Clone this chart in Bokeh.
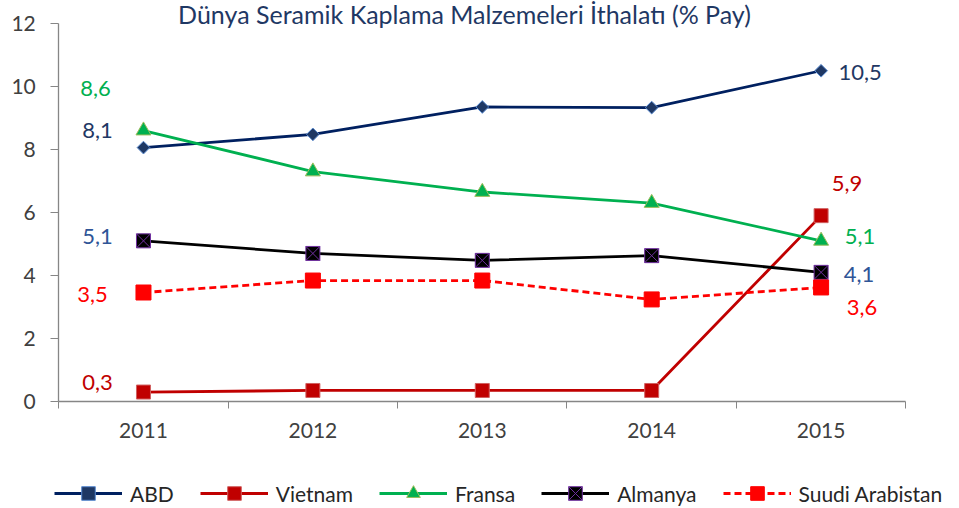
import math
from bokeh.plotting import figure
from bokeh.models import (FixedTicker, Legend, LegendItem, Label, ColumnDataSource,
                          Range1d)
from bokeh.core.properties import value
from bokeh.embed import file_html
from bokeh.resources import INLINE

years = [2011, 2012, 2013, 2014, 2015]
abd = [8.06, 8.48, 9.35, 9.33, 10.5]
vietnam = [0.3, 0.35, 0.35, 0.35, 5.9]
fransa = [8.6, 7.3, 6.65, 6.3, 5.1]
almanya = [5.1, 4.7, 4.48, 4.63, 4.1]
suudi = [3.46, 3.84, 3.84, 3.24, 3.62]
y_ticks = [0, 2, 4, 6, 8, 10, 12]
title_text = "Dünya Seramik Kaplama Malzemeleri İthalatı (% Pay)"

FONT = "Lato"
W, H = 959, 508

p = figure(width=W, height=H, output_backend="svg", toolbar_location=None,
           x_range=Range1d(2010.156, 2015.817), y_range=Range1d(-3.397, 12.730),
           min_border_left=0, min_border_right=0, min_border_top=0,
           min_border_bottom=0)
p.outline_line_color = None
p.xgrid.visible = False
p.ygrid.visible = False

# axes (drawn at fixed data locations inside the frame)
p.yaxis.fixed_location = 2010.5
p.yaxis.bounds = (0, 12)
p.yaxis.ticker = FixedTicker(ticks=y_ticks)
p.yaxis.major_label_text_font = FONT
p.yaxis.major_label_text_font_size = "21px"
p.yaxis.major_label_text_color = "#404040"
p.yaxis.axis_line_color = "#868686"
p.yaxis.axis_line_width = 1.3
p.yaxis.major_tick_line_color = "#868686"
p.yaxis.major_tick_out = 8
p.yaxis.major_tick_in = 0
p.yaxis.minor_tick_line_color = None
p.yaxis.major_label_standoff = 15

p.xaxis.fixed_location = 0
p.xaxis.bounds = (2010.5, 2015.5)
p.xaxis.ticker = FixedTicker(ticks=years,
                             minor_ticks=[y - 0.5 for y in years] + [years[-1] + 0.5])
p.xaxis.major_label_text_font = FONT
p.xaxis.major_label_text_font_size = "21px"
p.xaxis.major_label_text_color = "#404040"
p.xaxis.axis_line_color = "#868686"
p.xaxis.axis_line_width = 1.3
p.xaxis.major_tick_line_color = None
p.xaxis.major_tick_out = 0
p.xaxis.major_tick_in = 0
p.xaxis.minor_tick_line_color = "#868686"
p.xaxis.minor_tick_out = 7
p.xaxis.minor_tick_in = 0
p.xaxis.major_label_standoff = 15

series = [
    ("ABD", abd, "#002060", "square", "#1F3864", "#5B8BD0", None, 9, math.pi / 4),
    ("Vietnam", vietnam, "#C00000", "square", "#C00000", "#D06060", None, 14, 0),
    ("Fransa", fransa, "#00B050", "triangle", "#00B050", "#9BBB59", None, 15, 0),
    ("Almanya", almanya, "#000000", "square_x", "#000000", "#7030A0", None, 14, 0),
    ("Suudi Arabistan", suudi, "#FF0000", "square", "#FF0000", "#FF0000", "7 4", 15, 0),
]

items = []
for name, vals, lc, marker, fc, oc, dash, size, ang in series:
    src = ColumnDataSource(dict(x=years, y=vals))
    r1 = p.line("x", "y", source=src, line_color=lc, line_width=2.8,
                line_dash=dash if dash else "solid")
    r2 = p.scatter("x", "y", source=src, marker=marker, size=size, angle=ang,
                   fill_color=fc, line_color=oc, line_width=1)
    items.append(LegendItem(label=name, renderers=[r1, r2]))

# data labels (first and last values)
def fmt(v):
    return ("%.1f" % v).replace(".", ",")

lab_specs = [
    # values, index, color, dx, dy
    (fransa, 0, "#00B050", -48, -42),
    (abd, 0, "#1F3864", -46, -17),
    (almanya, 0, "#2F5597", -46, -4),
    (suudi, 0, "#FF0000", -51, 2),
    (vietnam, 0, "#C00000", -46, -10),
    (abd, 4, "#1F3864", 39, 2),
    (vietnam, 4, "#C00000", 26, -32),
    (fransa, 4, "#00B050", 39, -4),
    (almanya, 4, "#2F5597", 38, 2),
    (suudi, 4, "#FF0000", 41, 20),
]
for vals, i, col, dx, dy in lab_specs:
    p.text(x=[years[i]], y=[vals[i]], text=[fmt(vals[i])], x_offset=dx, y_offset=dy,
           text_align="center", text_baseline="middle", text_color=col,
           text_font=value(FONT), text_font_size="22px")

legend = Legend(items=items, orientation="horizontal", location=(52, -4),
                label_text_font=FONT, label_text_font_size="21px",
                label_text_color="#262626", glyph_width=68, glyph_height=34,
                label_standoff=8, spacing=26, padding=2, margin=0,
                border_line_alpha=0, background_fill_alpha=0)
p.add_layout(legend)

title = Label(x=464, y=H - 13.5, x_units="screen", y_units="screen", text=title_text,
              text_align="center", text_baseline="alphabetic", text_color="#1F3864",
              text_font=FONT, text_font_size="25px")
p.add_layout(title)

open("out.html", "w").write(file_html(p, INLINE))
